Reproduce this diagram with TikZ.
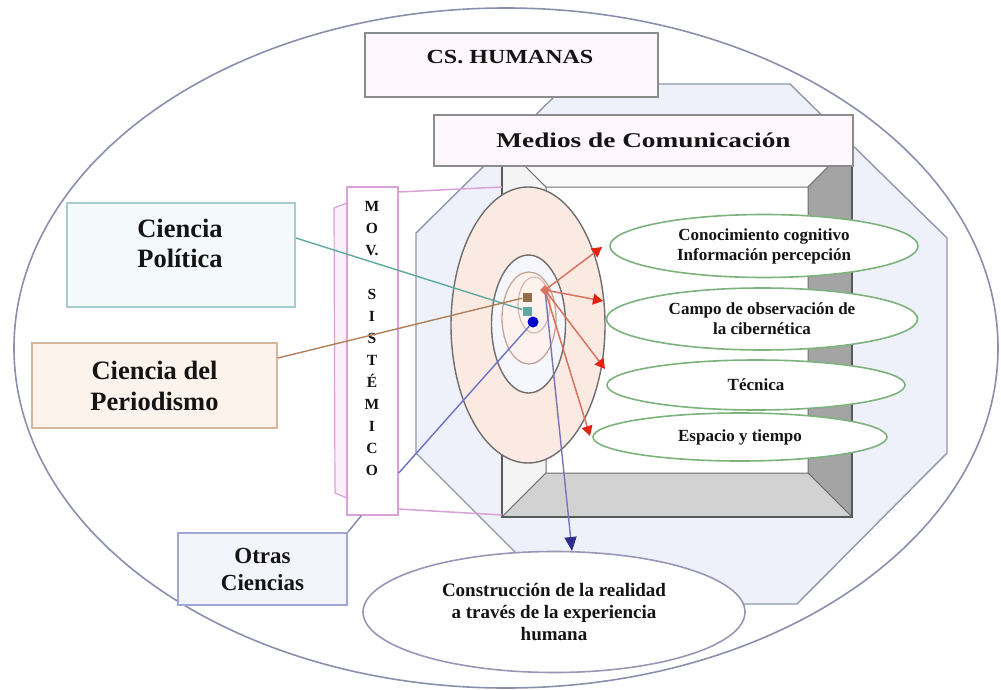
\documentclass[tikz,border=0pt]{standalone}
\usepackage{fontspec}
\setmainfont{Liberation Serif}
\usetikzlibrary{shapes.geometric,arrows.meta}
\definecolor{bigc}{HTML}{8A90AC}
\definecolor{octc}{HTML}{9096AC}
\definecolor{octf}{HTML}{EEF1FA}
\definecolor{pinkc}{HTML}{D8A2D8}
\definecolor{pinkf}{HTML}{FBEFFA}
\definecolor{boxf}{HTML}{FDF6FB}
\definecolor{boxc}{HTML}{8C8C8C}
\definecolor{polc}{HTML}{A6CCCC}
\definecolor{polf}{HTML}{F4FAFA}
\definecolor{perc}{HTML}{D4B698}
\definecolor{perf}{HTML}{FCF4EC}
\definecolor{otc}{HTML}{A2A6D6}
\definecolor{otf}{HTML}{F3F4FC}
\definecolor{peach}{HTML}{FBEAE2}
\definecolor{orbc}{HTML}{6E6E6E}
\definecolor{orbb}{HTML}{C4A49A}
\definecolor{greenc}{HTML}{7DB27D}
\definecolor{consc}{HTML}{9A96B6}
\definecolor{tealc}{HTML}{5FA8A0}
\definecolor{brownc}{HTML}{B0805A}
\definecolor{bluec}{HTML}{6A72C8}
\definecolor{salmon}{HTML}{D9735E}
\definecolor{redd}{HTML}{E0240F}
\definecolor{navyl}{HTML}{7676B4}
\definecolor{navyd}{HTML}{2C2C8C}
\definecolor{txtc}{HTML}{141414}
\definecolor{bevl}{HTML}{F4F4F4}
\definecolor{bevt}{HTML}{FAFAFA}
\definecolor{bevr}{HTML}{A4A4A4}
\definecolor{bevb}{HTML}{D2D2D2}
\definecolor{bevc}{HTML}{6E6E6E}
\newcommand\myfs[2]{\fontsize{#1}{#2}\selectfont\bfseries}
\begin{document}
\begin{tikzpicture}[x=1pt,y=-1pt,
  txt/.style={text=txtc, align=center, inner sep=0pt},
  rbox/.style={rectangle, line width=1.8pt, inner sep=0pt},
  ell/.style={ellipse, inner sep=0pt},
  grn/.style={ell, draw=greenc, line width=1.6pt, fill=white, txt, font=\myfs{17}{20}},
  redar/.style={draw=salmon, line width=1.5pt, -{Triangle[length=10pt,width=11pt,color=redd]}},
  bev/.style={draw=bevc, line width=1pt, line join=round},
  dot/.style={rectangle, minimum size=9pt, inner sep=0pt},
]
\useasboundingbox (0,0) rectangle (1001,690);
\fill[white] (0,0) rectangle (1001,690);
% outer ellipse
\draw[bigc, line width=1.6pt, fill=white] (506,348) ellipse [x radius=492pt, y radius=340pt];
% octagon
\draw[octc, line width=1.4pt, fill=octf, line join=round] (567,84) -- (790,84) -- (947,238) -- (947,453) -- (797,604) -- (567,604) -- (416,453) -- (416,233) -- cycle;
% bevel frame
\fill[white] (546,187) rectangle (808,473);
\filldraw[bev, fill=bevl] (502,143) -- (546,187) -- (546,473) -- (502,517) -- cycle;
\filldraw[bev, fill=bevt] (502,143) -- (852,143) -- (808,187) -- (546,187) -- cycle;
\filldraw[bev, fill=bevr] (852,143) -- (852,517) -- (808,473) -- (808,187) -- cycle;
\filldraw[bev, fill=bevb] (502,517) -- (852,517) -- (808,473) -- (546,473) -- cycle;
\draw[bevc!80!black, line width=1.6pt] (502,143) rectangle (852,517);
% MOV. SISTEMICO box
\draw[pinkc, line width=1.5pt] (398,192) -- (502,187);
\draw[pinkc, line width=1.5pt] (398,509) -- (502,515);
\filldraw[draw=pinkc, fill=pinkf, line width=1.2pt] (334,208) -- (347,203) -- (347,498) -- (335,493) -- cycle;
\node[rbox, draw=pinkc, fill=white, line width=1.5pt, minimum width=51pt, minimum height=328pt] (mov) at (372.5,351) {};
\node[txt, font=\myfs{15.5}{22}] (movt) at (372,338) {M\\O\\V.\\[22pt]S\\I\\S\\T\\É\\M\\I\\C\\O};
% top boxes
\node[rbox, draw=boxc, fill=boxf, minimum width=293pt, minimum height=64pt] (cs) at (511.5,65) {};
\node[txt, font=\myfs{20}{24}] (cst) at (510,57) {\scalebox{1.2}[1]{CS. HUMANAS}};
\node[rbox, draw=boxc, fill=boxf, minimum width=419pt, minimum height=51pt, txt, font=\myfs{21}{24}] (med) at (643.5,140.5) {\scalebox{1.3}[1]{Medios de Comunicación}};
% orbits
\node[ell, draw=orbc, line width=1.4pt, fill=peach, minimum width=154pt, minimum height=276pt] (orb) at (528,325) {};
\node[ell, draw=orbc, line width=1.4pt, fill=octf!60!white, minimum width=74pt, minimum height=138pt] (orbm) at (528.5,324) {};
\node[ell, draw=orbb, line width=1.3pt, fill=peach!60!white, minimum width=54pt, minimum height=92pt] (orbi) at (529,318) {};
\node[ell, draw=orbb!80, line width=1.1pt, minimum width=32pt, minimum height=56pt] (orbs) at (534,305) {};
% green ellipses
\node[grn, minimum width=308pt, minimum height=63pt] (cono) at (764,246) {Conocimiento cognitivo\\Información percepción};
\node[grn, minimum width=311pt, minimum height=62pt] (campo) at (762,319) {Campo de observación de\\la cibernética};
\node[grn, minimum width=298pt, minimum height=50pt] (tec) at (756,385) {Técnica};
\node[grn, minimum width=294pt, minimum height=48pt] (esp) at (740,437) {Espacio y tiempo};
% side boxes
\node[rbox, draw=polc, fill=polf, minimum width=228pt, minimum height=104pt] (pol) at (181,255) {};
\node[txt, font=\myfs{26.5}{30}] (polt) at (180,243) {Ciencia\\Política};
\node[rbox, draw=perc, fill=perf, minimum width=245pt, minimum height=85pt, txt, font=\myfs{26.5}{31}] (per) at (154.5,385.5) {Ciencia del\\Periodismo};
\node[rbox, draw=otc, fill=otf, minimum width=169pt, minimum height=72pt, txt, font=\myfs{23}{27}] (otr) at (262.5,569) {Otras\\Ciencias};
% bottom ellipse
\node[ell, draw=consc, line width=1.6pt, fill=white, txt, font=\myfs{19}{22}, minimum width=382pt, minimum height=121pt] (cons) at (554,612) {Construcción de la realidad\\a través de la experiencia\\humana};
% dots
\node[dot, fill=brownc!85!black] (dbr) at (527,297) {};
\node[dot, fill=tealc] (dte) at (527,311) {};
\node[circle, minimum size=11pt, inner sep=0pt, fill=blue!80!black] (dbl) at (533,322) {};
\coordinate (rc) at (545,290);
\coordinate (t1) at (602,247);
\coordinate (t2) at (603,301);
\coordinate (t3) at (605,369);
\coordinate (t4) at (590,436);
\coordinate (t5) at (572,551);
% connectors
\draw[tealc, line width=1.4pt] ([yshift=17pt]pol.east) -- (dte);
\draw[brownc, line width=1.4pt] ([yshift=27.5pt]per.east) -- (dbr);
\draw[bluec, line width=1.4pt] ([yshift=-122pt]mov.east) -- (dbl);
\draw[otc!80!black, line width=1.4pt] (otr.north east) -- ([xshift=15pt]mov.south west);
\draw[redar] (rc) -- (t1);
\draw[redar] (rc) -- (t2);
\draw[redar] (rc) -- (t3);
\draw[redar] (rc) -- (t4);
\draw[navyl, line width=1.4pt, -{Triangle[length=14pt,width=12pt,color=navyd]}] (rc) -- (t5);
\node[rectangle, rotate=45, minimum size=7pt, inner sep=0pt, fill=salmon] (rdot) at (rc) {};
\end{tikzpicture}
\end{document}
